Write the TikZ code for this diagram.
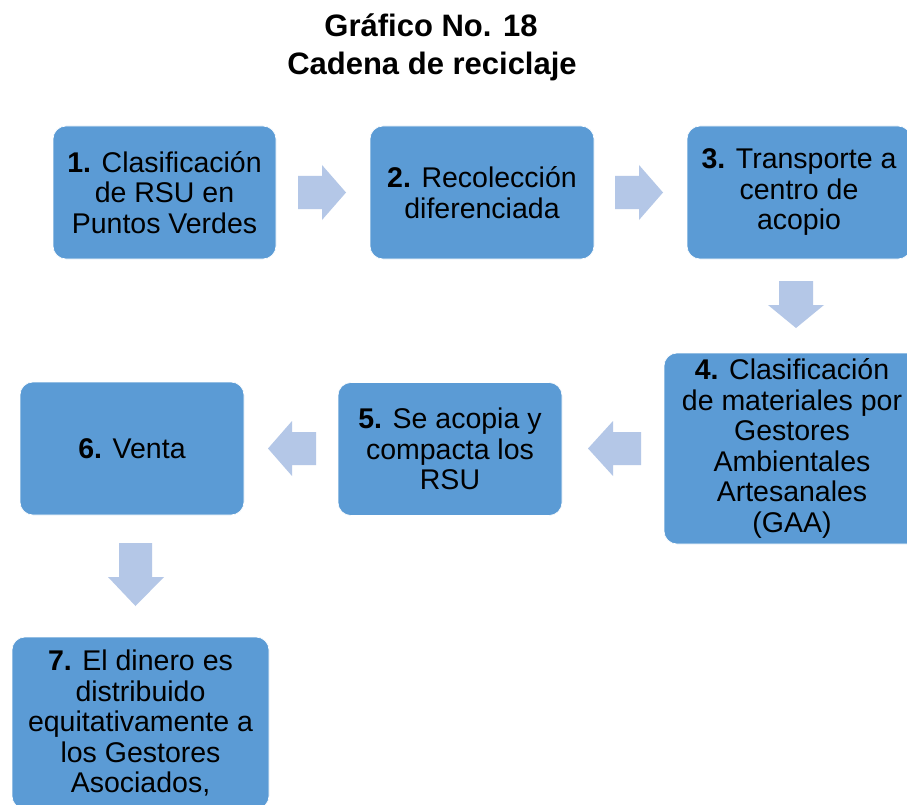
\documentclass[tikz,border=0pt]{standalone}
\usepackage{fontspec}
\setmainfont{Liberation Sans}
\definecolor{boxblue}{RGB}{91,155,213}
\definecolor{arrowblue}{RGB}{180,199,231}
\tikzset{
  stepbox/.style={draw=white, line width=0.6pt, fill=boxblue, rounded corners=13pt,
    align=center, text=black, inner sep=0pt,
    font=\fontsize{28.5}{30.5}\selectfont},
  titletext/.style={anchor=base, inner sep=0pt, font=\fontsize{31}{37}\selectfont\bfseries},
  blockarrow/.style={fill=arrowblue, draw=none}
}
\begin{document}
\begin{tikzpicture}[x=1pt,y=-1pt]
\clip (0,0) rectangle (907,805);
\fill[white] (0,0) rectangle (907,805);
% title
\node[titletext] (t1) at (431,37) {Gráfico No. 18};
\node[titletext] (t2) at (432,75) {Cadena de reciclaje};
% boxes
\node[stepbox, minimum width=223pt, minimum height=133pt] (b1) at (164.5,192.5)
  {\textbf{1.} Clasificación\\de RSU en\\Puntos Verdes};
\node[stepbox, minimum width=224pt, minimum height=133pt] (b2) at (482,192.5)
  {\textbf{2.} Recolección\\diferenciada};
\node[stepbox, minimum width=224pt, minimum height=133pt] (b3) at (799,192.5)
  {\textbf{3.} Transporte a\\centro de\\acopio};
\node[stepbox, minimum width=256pt, minimum height=191pt] (b4) at (792,448.5)
  {\textbf{4.} Clasificación\\de materiales por\\Gestores\\Ambientales\\Artesanales\\(GAA)};
\node[stepbox, minimum width=224pt, minimum height=133pt] (b5) at (450,449)
  {\textbf{5.} Se acopia y\\compacta los\\RSU};
\node[stepbox, minimum width=224pt, minimum height=133pt] (b6) at (132,448.5)
  {\textbf{6.} Venta};
\node[stepbox, minimum width=257pt, minimum height=172pt] (b7) at (140.5,723)
  {\textbf{7.} El dinero es\\distribuido\\equitativamente a\\los Gestores\\Asociados,};
% block arrows
\fill[blockarrow] (298,176) -- (322,176) -- (322,165) -- (346,192.5) -- (322,220) -- (322,209) -- (298,209) -- cycle;
\fill[blockarrow] (615,176) -- (639,176) -- (639,165) -- (663,192.5) -- (639,220) -- (639,209) -- (615,209) -- cycle;
\fill[blockarrow] (779,281) -- (813,281) -- (813,305) -- (824,305) -- (796,328) -- (768,305) -- (779,305) -- cycle;
\fill[blockarrow] (641,432) -- (613,432) -- (613,421) -- (588,448.5) -- (613,476) -- (613,465) -- (641,465) -- cycle;
\fill[blockarrow] (316,432) -- (292,432) -- (292,421) -- (268,448.5) -- (292,476) -- (292,465) -- (316,465) -- cycle;
\fill[blockarrow] (119,543) -- (152,543) -- (152,577) -- (164,577) -- (135.5,606) -- (108,577) -- (119,577) -- cycle;
\end{tikzpicture}
\end{document}
